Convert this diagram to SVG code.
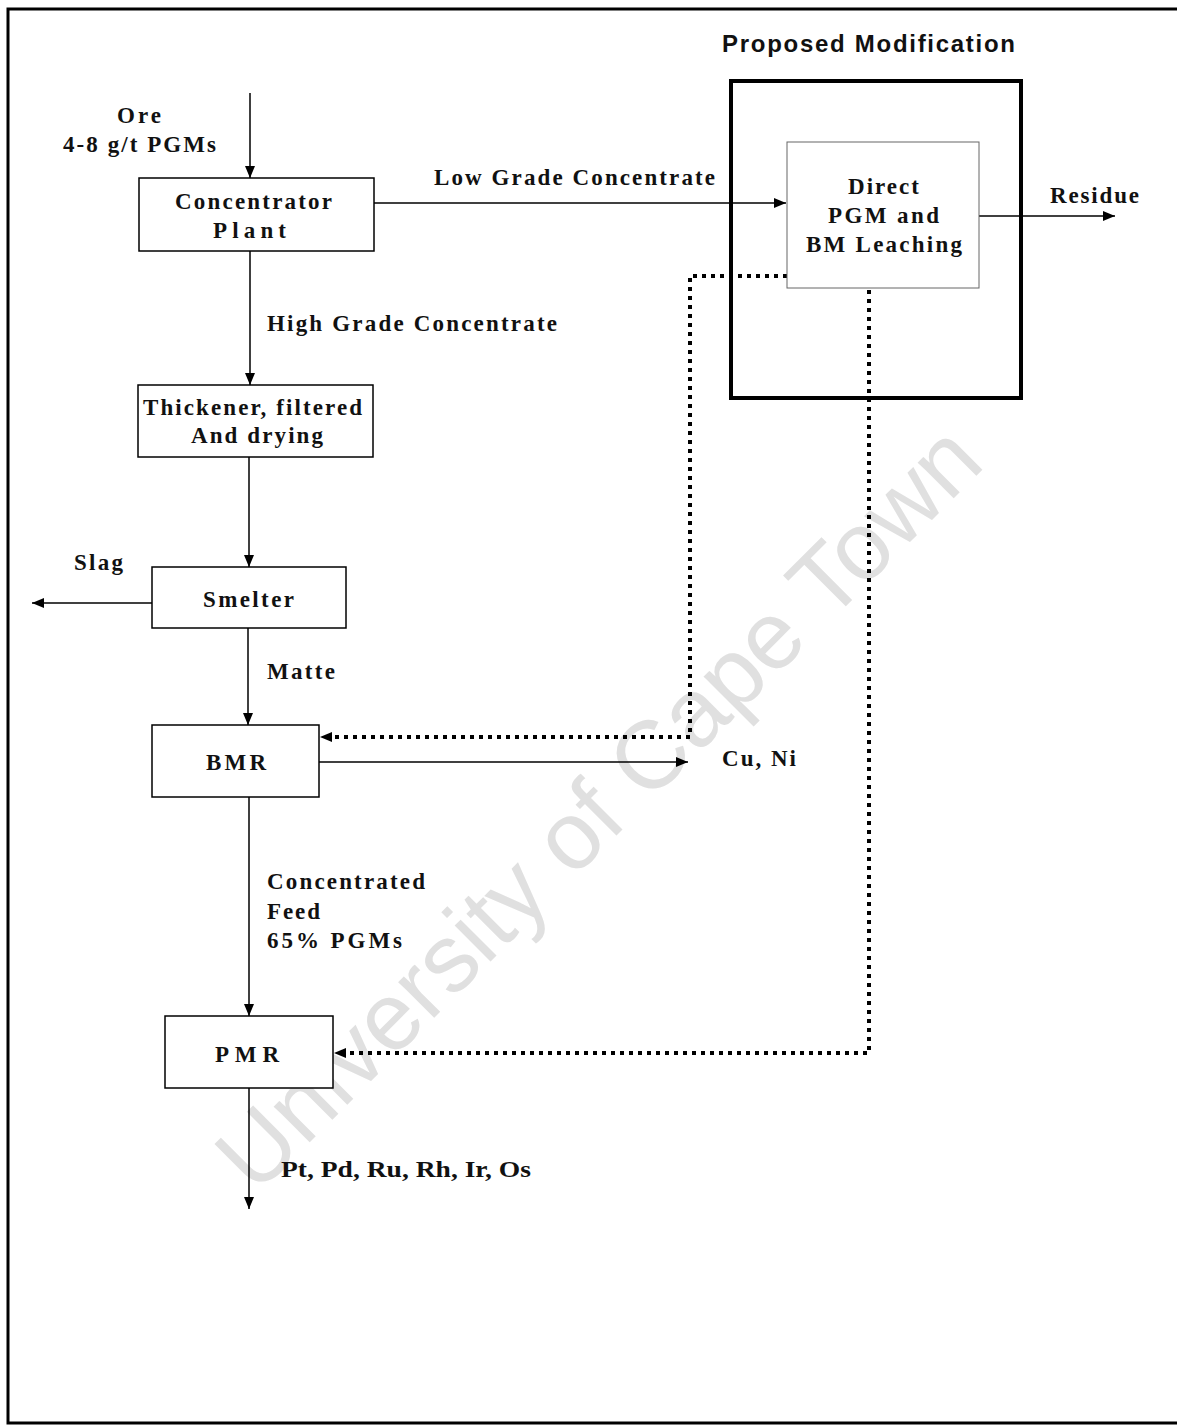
<svg xmlns="http://www.w3.org/2000/svg" width="1177" height="1425" viewBox="0 0 1177 1425">
<style>
.box{fill:#fff;stroke:#000;stroke-width:1.5}
.t{font-family:"Liberation Serif","Times New Roman",serif;font-weight:bold;font-size:23px;fill:#111}
.s{font-family:"Liberation Sans",Arial,sans-serif;font-weight:bold;font-size:24px;fill:#111}
.ln{fill:none;stroke:#000;stroke-width:1.5}
.dot{fill:none;stroke:#000;stroke-width:4;stroke-dasharray:4 5}
.wm{font-family:"Liberation Sans",Arial,sans-serif;font-size:96px;fill:#e0e0e0}
</style>
<defs>
<marker id="ah" viewBox="0 0 12 10" refX="12" refY="5" markerWidth="12" markerHeight="10" markerUnits="userSpaceOnUse" orient="auto">
<path d="M0,0 L12,5 L0,10 z" fill="#000" stroke="none"/>
</marker>
</defs>
<rect width="1177" height="1425" fill="#fff"/>
<g id="watermark">
<text class="wm" transform="translate(256,1196) rotate(-45)">University of Cape Town</text>
</g>
<path id="frame" d="M1177,9 H8 V1423 H1177" fill="none" stroke="#000" stroke-width="3"/>
<g id="proposed">
<rect x="731" y="81" width="290" height="317" fill="none" stroke="#000" stroke-width="4"/>
<text class="s" x="722" y="52" textLength="293">Proposed Modification</text>
</g>
<g id="connectors">
<line class="ln" x1="250" y1="93" x2="250" y2="178" marker-end="url(#ah)"/>
<line class="ln" x1="374" y1="203" x2="786" y2="203" marker-end="url(#ah)"/>
<line class="ln" x1="250" y1="251" x2="250" y2="385" marker-end="url(#ah)"/>
<line class="ln" x1="249" y1="457" x2="249" y2="567" marker-end="url(#ah)"/>
<line class="ln" x1="152" y1="603" x2="32" y2="603" marker-end="url(#ah)"/>
<line class="ln" x1="248" y1="628" x2="248" y2="725" marker-end="url(#ah)"/>
<line class="ln" x1="319" y1="762" x2="688" y2="762" marker-end="url(#ah)"/>
<line class="ln" x1="249" y1="797" x2="249" y2="1016" marker-end="url(#ah)"/>
<line class="ln" x1="249" y1="1088" x2="249" y2="1209" marker-end="url(#ah)"/>
<line class="ln" x1="979" y1="216" x2="1115" y2="216" marker-end="url(#ah)"/>
<path class="dot" d="M787,276 H690 V737 H322"/>
<path d="M331,737 H320" stroke="none" fill="none" marker-end="url(#ah)"/>
<path class="dot" d="M869,290 V1053 H336"/>
<path d="M345,1053 H334" stroke="none" fill="none" marker-end="url(#ah)"/>
</g>
<g id="labels">
<text class="t" x="117" y="123" textLength="44">Ore</text>
<text class="t" x="63" y="152" textLength="153">4-8 g/t PGMs</text>
<text class="t" x="434" y="185" textLength="281">Low Grade Concentrate</text>
<text class="t" x="1050" y="203" textLength="89">Residue</text>
<text class="t" x="267" y="331" textLength="290">High Grade Concentrate</text>
<text class="t" x="74" y="570" textLength="49">Slag</text>
<text class="t" x="267" y="679" textLength="68">Matte</text>
<text class="t" x="722" y="766" textLength="74">Cu, Ni</text>
<text class="t" x="267" y="889" textLength="158">Concentrated</text>
<text class="t" x="267" y="919" textLength="53">Feed</text>
<text class="t" x="267" y="948" textLength="135">65% PGMs</text>
<text class="t" x="281" y="1177" textLength="250" lengthAdjust="spacingAndGlyphs">Pt, Pd, Ru, Rh, Ir, Os</text>
</g>
<g id="concentrator">
<rect class="box" x="139" y="178" width="235" height="73"/>
<text class="t" x="175" y="209" textLength="157">Concentrator</text>
<text class="t" x="213" y="238" textLength="73">Plant</text>
</g>
<g id="leaching">
<rect x="787" y="142" width="192" height="146" fill="#fff" stroke="#666" stroke-width="1"/>
<text class="t" x="848" y="194" textLength="71">Direct</text>
<text class="t" x="828" y="223" textLength="111">PGM and</text>
<text class="t" x="806" y="252" textLength="156">BM Leaching</text>
</g>
<g id="thickener">
<rect class="box" x="138" y="385" width="235" height="72"/>
<text class="t" x="143" y="415" textLength="219">Thickener, filtered</text>
<text class="t" x="191" y="443" textLength="132">And drying</text>
</g>
<g id="smelter">
<rect class="box" x="152" y="567" width="194" height="61"/>
<text class="t" x="203" y="607" textLength="91">Smelter</text>
</g>
<g id="bmr">
<rect class="box" x="152" y="725" width="167" height="72"/>
<text class="t" x="206" y="770" textLength="60">BMR</text>
</g>
<g id="pmr">
<rect class="box" x="165" y="1016" width="168" height="72"/>
<text class="t" x="215" y="1062" textLength="64">PMR</text>
</g>
</svg>
